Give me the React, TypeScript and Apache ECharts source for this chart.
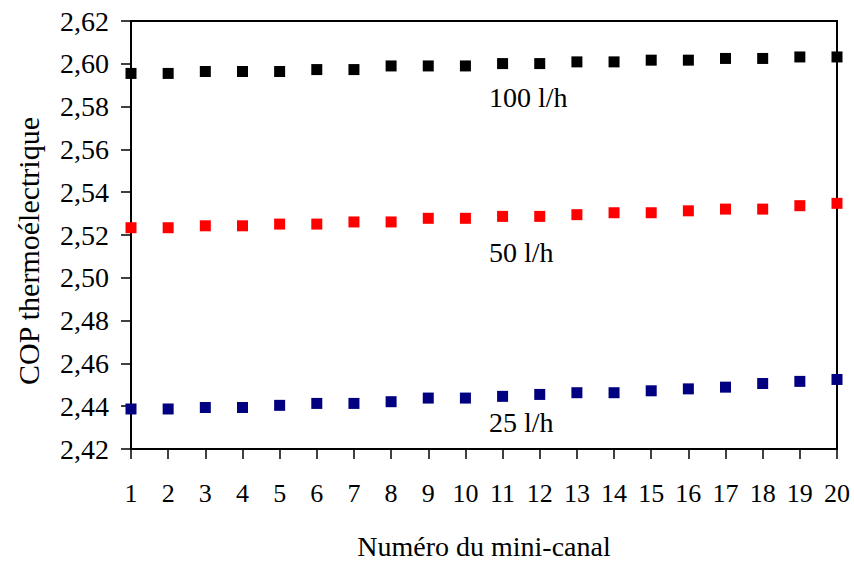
import React, { useEffect, useRef } from "react";
import * as echarts from "echarts";

const canals = [1, 2, 3, 4, 5, 6, 7, 8, 9, 10, 11, 12, 13, 14, 15, 16, 17, 18, 19, 20];
const cop100 = [2.5955, 2.5955, 2.5964, 2.5964, 2.5964, 2.5973, 2.5973, 2.599, 2.599, 2.599, 2.6001, 2.6001, 2.6009, 2.6009, 2.6017, 2.6017, 2.6025, 2.6025, 2.6032, 2.6032];
const cop50 = [2.5234, 2.5234, 2.5243, 2.5243, 2.5251, 2.5251, 2.5261, 2.5261, 2.5278, 2.5278, 2.5287, 2.5287, 2.5295, 2.5304, 2.5304, 2.5313, 2.5321, 2.5321, 2.5337, 2.5348];
const cop25 = [2.4387, 2.4387, 2.4394, 2.4394, 2.4404, 2.4413, 2.4413, 2.4421, 2.4438, 2.4438, 2.4446, 2.4455, 2.4463, 2.4463, 2.4472, 2.4481, 2.4489, 2.4506, 2.4516, 2.4525];
const seriesNames = ["100 l/h", "50 l/h", "25 l/h"];
const xTitle = "Numéro du mini-canal";
const yTitle = "COP thermoélectrique";

const FONT = "Liberation Serif";

export default function App() {
  const ref = useRef<HTMLDivElement>(null);
  useEffect(() => {
    if (!ref.current) return;
    const chart = echarts.init(ref.current, null, { renderer: "svg" });
    const mk = (name: string, vals: number[], color: string) => ({
      name,
      type: "scatter",
      symbol: "rect",
      symbolSize: 11,
      clip: false,
      itemStyle: { color, opacity: 1 },
      data: canals.map((c, i) => [c, vals[i]]),
    });
    chart.setOption({
      animation: false,
      backgroundColor: "#fff",
      textStyle: { fontFamily: FONT },
      grid: {
        left: 131,
        top: 21,
        right: 17,
        bottom: 114,
        outerBoundsMode: "none",
        containLabel: false,
        show: true,
        borderColor: "#000",
        borderWidth: 2,
        backgroundColor: "transparent",
      },
      xAxis: {
        type: "value",
        min: 1,
        max: 20,
        interval: 1,
        name: xTitle,
        nameLocation: "middle",
        nameGap: 83,
        nameTextStyle: { fontFamily: FONT, fontSize: 28, color: "#000", lineHeight: 28 },
        axisLine: { show: true, lineStyle: { color: "#000", width: 2 } },
        axisTick: { show: true, length: 10, lineStyle: { color: "#000", width: 1.5 } },
        axisLabel: { fontFamily: FONT, fontSize: 26, color: "#000", margin: 31 },
        splitLine: { show: false },
      },
      yAxis: {
        type: "value",
        min: 2.42,
        max: 2.62,
        interval: 0.02,
        axisLine: { show: true, lineStyle: { color: "#000", width: 2 } },
        axisTick: { show: true, length: 10, lineStyle: { color: "#000", width: 1.5 } },
        axisLabel: {
          fontFamily: FONT,
          fontSize: 28,
          color: "#000",
          margin: 22,
          formatter: (v: number) => v.toFixed(2).replace(".", ","),
        },
        splitLine: { show: false },
      },
      graphic: [
        {
          type: "text",
          x: 28,
          y: 251,
          rotation: Math.PI / 2,
          style: {
            text: yTitle,
            fontFamily: FONT,
            fontSize: 30,
            fill: "#000",
            align: "center",
            verticalAlign: "middle",
          },
        },
        {
          type: "text",
          x: 489,
          y: 97,
          style: { text: seriesNames[0], fontFamily: FONT, fontSize: 28, fill: "#000", verticalAlign: "middle" },
        },
        {
          type: "text",
          x: 489,
          y: 252,
          style: { text: seriesNames[1], fontFamily: FONT, fontSize: 28, fill: "#000", verticalAlign: "middle" },
        },
        {
          type: "text",
          x: 489,
          y: 422,
          style: { text: seriesNames[2], fontFamily: FONT, fontSize: 28, fill: "#000", verticalAlign: "middle" },
        },
      ],
      series: [mk(seriesNames[0], cop100, "#000000"), mk(seriesNames[1], cop50, "#FF0000"), mk(seriesNames[2], cop25, "#000080")],
    });
    return () => chart.dispose();
  }, []);
  return <div ref={ref} style={{ width: 854, height: 563, position: "absolute", left: 0, top: 0 }} />;
}
